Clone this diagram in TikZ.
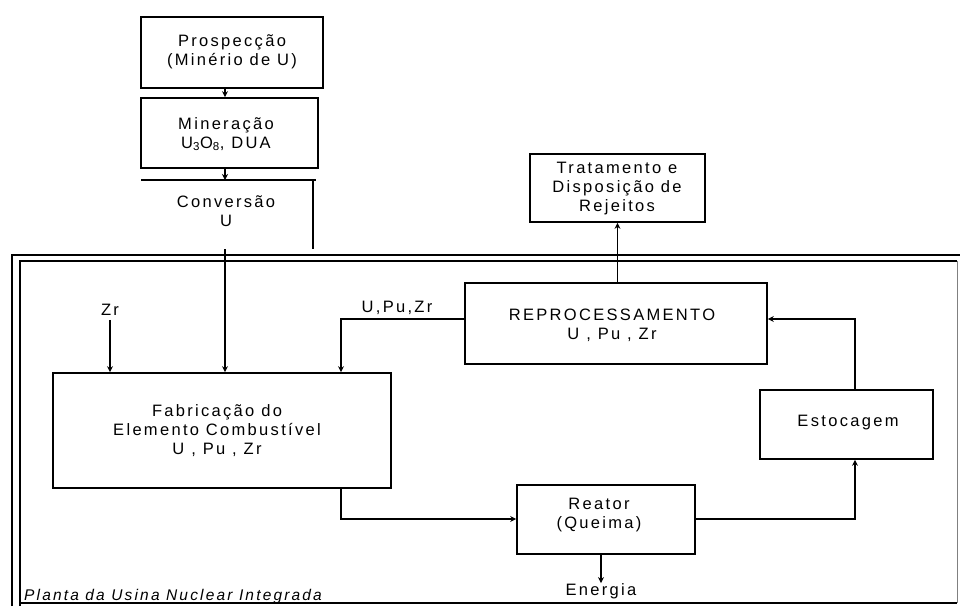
\documentclass[tikz,border=0pt]{standalone}
\usepackage{fontspec}
\setmainfont{Liberation Sans}[LetterSpace=14]
\usetikzlibrary{arrows.meta,calc}
\tikzset{
  box/.style={draw, line width=1.7pt, inner sep=0pt},
  lab/.style={font=\fontsize{16.5}{19}\selectfont, align=center, inner sep=0pt},
  arr/.style={line width=1.7pt, -{Stealth[length=6pt,width=6pt]}},
  ln/.style={line width=1.7pt},
  frame/.style={line width=1.8pt}
}
\begin{document}
\begin{tikzpicture}[x=1pt,y=-1pt]
\useasboundingbox (0,0) rectangle (962,606);
% frame (Planta)
\draw[frame] (12,606) -- (12,255) -- (960,255);
\draw[frame] (20,606) -- (20,261) -- (957,261);
\draw[line width=0.6pt, black!50] (957,261) -- (957,603);
\draw[frame] (20,603) -- (957,603);
\node[lab, font=\fontsize{15.5}{18}\itshape, anchor=south west] (planta) at (24,604) {Planta da Usina Nuclear Integrada};
% boxes
\node[box, minimum width=182, minimum height=71] (pros) at (232,52.5) {};
\node[lab] (prost) at (232,52) {Prospecção\\(Minério de U)};
\node[box, minimum width=177, minimum height=70] (mine) at (229.5,133) {};
\node[lab] (minet) at (226,134) {Mineração\\U\textsubscript{3}O\textsubscript{8}, DUA};
\coordinate (convtl) at (141,180);
\coordinate (convtr) at (313,180);
\coordinate (convbr) at (313,249);
\node[lab] (conv) at (226,211) {Conversão\\U};
\draw[ln] (convtl) -- (convtr) -- (convbr);
\node[box, minimum width=338, minimum height=115] (fab) at (222,430.5) {};
\node[lab] (fabt) at (217,431) {Fabricação do\\Elemento Combustível\\U , Pu , Zr};
\node[box, minimum width=302, minimum height=81] (rep) at (616,323.5) {};
\node[lab] (rept) at (612,325) {REPROCESSAMENTO\\U , Pu , Zr};
\node[box, minimum width=175, minimum height=68] (trat) at (617.5,188) {};
\node[lab] (tratt) at (617,189) {Tratamento e\\Disposição de\\Rejeitos};
\node[box, minimum width=173, minimum height=69] (est) at (846.5,424.5) {};
\node[lab] (estt) at (848,423) {Estocagem};
\node[box, minimum width=178, minimum height=69] (rea) at (606,519.5) {};
\node[lab] (reat) at (599,515) {Reator\\(Queima)};
\node[lab] (zr) at (110,310) {Zr};
\node[lab] (upz) at (397,308) {U,Pu,Zr};
\node[lab] (ener) at (601,591) {Energia};
% connectors
\draw[arr] (pros.south -| 225,0) -- (mine.north -| 225,0);
\draw[ln] (141,180) -- (316,180);
\draw[arr] (mine.south -| 225,0) -- (convtl -| 225,0);
\draw[arr] (225,249) -- (fab.north -| 225,0);
\draw[arr] (zr.south) ++(0,4) -- (fab.north -| zr.south);
\coordinate (b1) at (341,319);
\draw[arr] (rep.west |- b1) -- (b1) -- (fab.north -| b1);
\draw[arr] (rep.north -| trat.south) -- (trat.south);
\coordinate (b2) at (855,319);
\draw[arr] (est.north -| b2) -- (b2) -- (rep.east |- b2);
\coordinate (b3) at (341,519);
\draw[arr] (fab.south -| b3) -- (b3) -- (rea.west |- b3);
\coordinate (b4) at (855,519);
\draw[arr] (rea.east |- b4) -- (b4) -- (est.south -| b4);
\draw[arr] (rea.south -| 601,0) -- (ener.north);
\end{tikzpicture}
\end{document}
